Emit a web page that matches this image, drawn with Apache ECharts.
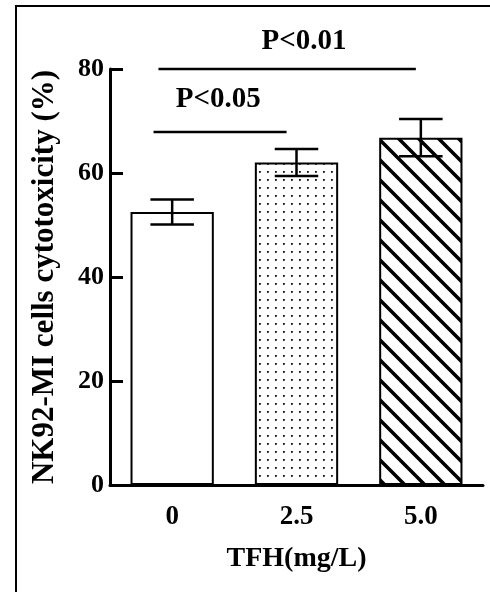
<!DOCTYPE html>
<html><head><meta charset="utf-8">
<script src="https://cdn.jsdelivr.net/npm/echarts@6/dist/echarts.min.js"></script>
<style>html,body{margin:0;padding:0;background:#fff}#c{width:490px;height:592px}</style>
</head><body><div id="c"></div>
<script>
// ---- data ----
const categories = ['0', '2.5', '5.0'];
const means = [52.5, 62.0, 66.8];
const errors = [2.4, 2.6, 3.6];
const yMin = 0, yMax = 80, yStep = 20;
// significance annotations: x extents in category units, y in data units
const sigLines = [
  { x0: -0.15, x1: 0.92, y: 67.9 },
  { x0: -0.11, x1: 1.96, y: 80 }
];
const sigLabels = [
  { x: 0.37, y: 74.2, text: 'P<0.05' },
  { x: 1.06, y: 85.2, text: 'P<0.01' }
];
const xTitle = 'TFH(mg/L)';
const yTitle = 'NK92-MI cells cytotoxicity (%)';

// ---- fill patterns ----
function makeHatch() {
  const c = document.createElement('canvas'); c.width = 20; c.height = 20;
  const g = c.getContext('2d');
  g.fillStyle = '#fff'; g.fillRect(0, 0, 20, 20);
  g.strokeStyle = '#000'; g.lineWidth = 3.5; g.lineCap = 'butt';
  g.beginPath();
  g.moveTo(-5, -5); g.lineTo(25, 25);
  g.moveTo(-5, 15); g.lineTo(5, 25);
  g.moveTo(15, -5); g.lineTo(25, 5);
  g.stroke();
  return c;
}
function makeDots() {
  const c = document.createElement('canvas'); c.width = 8; c.height = 8;
  const g = c.getContext('2d');
  g.fillStyle = '#fff'; g.fillRect(0, 0, 8, 8);
  g.fillStyle = '#111'; g.fillRect(3, 3, 1.8, 1.8);
  return c;
}
const fills = ['#fff', { image: makeDots(), repeat: 'repeat' }, { image: makeHatch(), repeat: 'repeat' }];

const FONT = 'Liberation Serif';
const chart = echarts.init(document.getElementById('c'), null, { renderer: 'canvas' });

function bandOffset(api, frac) {
  const base = api.coord([0, 0]);
  const band = api.size([1, 0])[0];
  return base[0] + frac * band;
}

chart.setOption({
  animation: false,
  backgroundColor: '#fff',
  graphic: [{
    type: 'polyline', silent: true,
    shape: { points: [[16, 592], [16, 6], [490, 6]] },
    style: { stroke: '#000', lineWidth: 2, fill: null }
  }],
  grid: { left: 110, right: 7, top: 69, bottom: 107, containLabel: false },
  xAxis: {
    type: 'category', data: categories,
    axisLine: { lineStyle: { color: '#000', width: 3 } },
    axisTick: { show: false },
    axisLabel: { color: '#000', fontFamily: FONT, fontWeight: 'bold', fontSize: 27, margin: 19 },
    name: xTitle, nameLocation: 'middle', nameGap: 60,
    nameTextStyle: { color: '#000', fontFamily: FONT, fontWeight: 'bold', fontSize: 28 }
  },
  yAxis: {
    type: 'value', min: yMin, max: yMax, interval: yStep,
    axisLine: { show: true, lineStyle: { color: '#000', width: 3 } },
    axisTick: { show: true, inside: true, length: 13, lineStyle: { color: '#000', width: 3 } },
    splitLine: { show: false },
    axisLabel: { color: '#000', fontFamily: FONT, fontWeight: 'bold', fontSize: 26, margin: 6 },
    name: yTitle, nameLocation: 'middle', nameGap: 50,
    nameTextStyle: { color: '#000', fontFamily: FONT, fontWeight: 'bold', fontSize: 31 }
  },
  series: [
    {
      type: 'bar', barWidth: '67%',
      data: means.map((v, i) => ({ value: v, itemStyle: { color: fills[i] } })),
      itemStyle: { borderColor: '#000', borderWidth: 2 },
      z: 2
    },
    {
      type: 'custom', z: 5,
      data: means.map((m, i) => [i, m, errors[i]]),
      renderItem: function (params, api) {
        const i = api.value(0), m = api.value(1), e = api.value(2);
        const top = api.coord([i, m + e]);
        const bot = api.coord([i, m - e]);
        const half = api.size([1, 0])[0] * 0.175;
        const st = { stroke: '#000', lineWidth: 2.5 };
        return {
          type: 'group', children: [
            { type: 'line', shape: { x1: top[0], y1: top[1], x2: bot[0], y2: bot[1] }, style: st },
            { type: 'line', shape: { x1: top[0] - half, y1: top[1], x2: top[0] + half, y2: top[1] }, style: st },
            { type: 'line', shape: { x1: bot[0] - half, y1: bot[1], x2: bot[0] + half, y2: bot[1] }, style: st }
          ]
        };
      }
    },
    {
      type: 'custom', z: 5, clip: false,
      data: sigLines.map(s => [s.x0, s.x1, s.y]),
      renderItem: function (params, api) {
        const x0 = bandOffset(api, api.value(0));
        const x1 = bandOffset(api, api.value(1));
        const y = api.coord([0, api.value(2)])[1];
        return { type: 'line', shape: { x1: x0, y1: y, x2: x1, y2: y }, style: { stroke: '#000', lineWidth: 2.5 } };
      }
    },
    {
      type: 'custom', z: 5, clip: false,
      data: sigLabels.map(s => [s.x, s.y]),
      renderItem: function (params, api) {
        const x = bandOffset(api, api.value(0));
        const y = api.coord([0, api.value(1)])[1];
        return {
          type: 'text', x: x, y: y,
          style: {
            text: sigLabels[params.dataIndex].text, fill: '#000',
            font: 'bold 29px "' + FONT + '"', align: 'center', verticalAlign: 'middle'
          }
        };
      }
    }
  ]
});
</script></body></html>
